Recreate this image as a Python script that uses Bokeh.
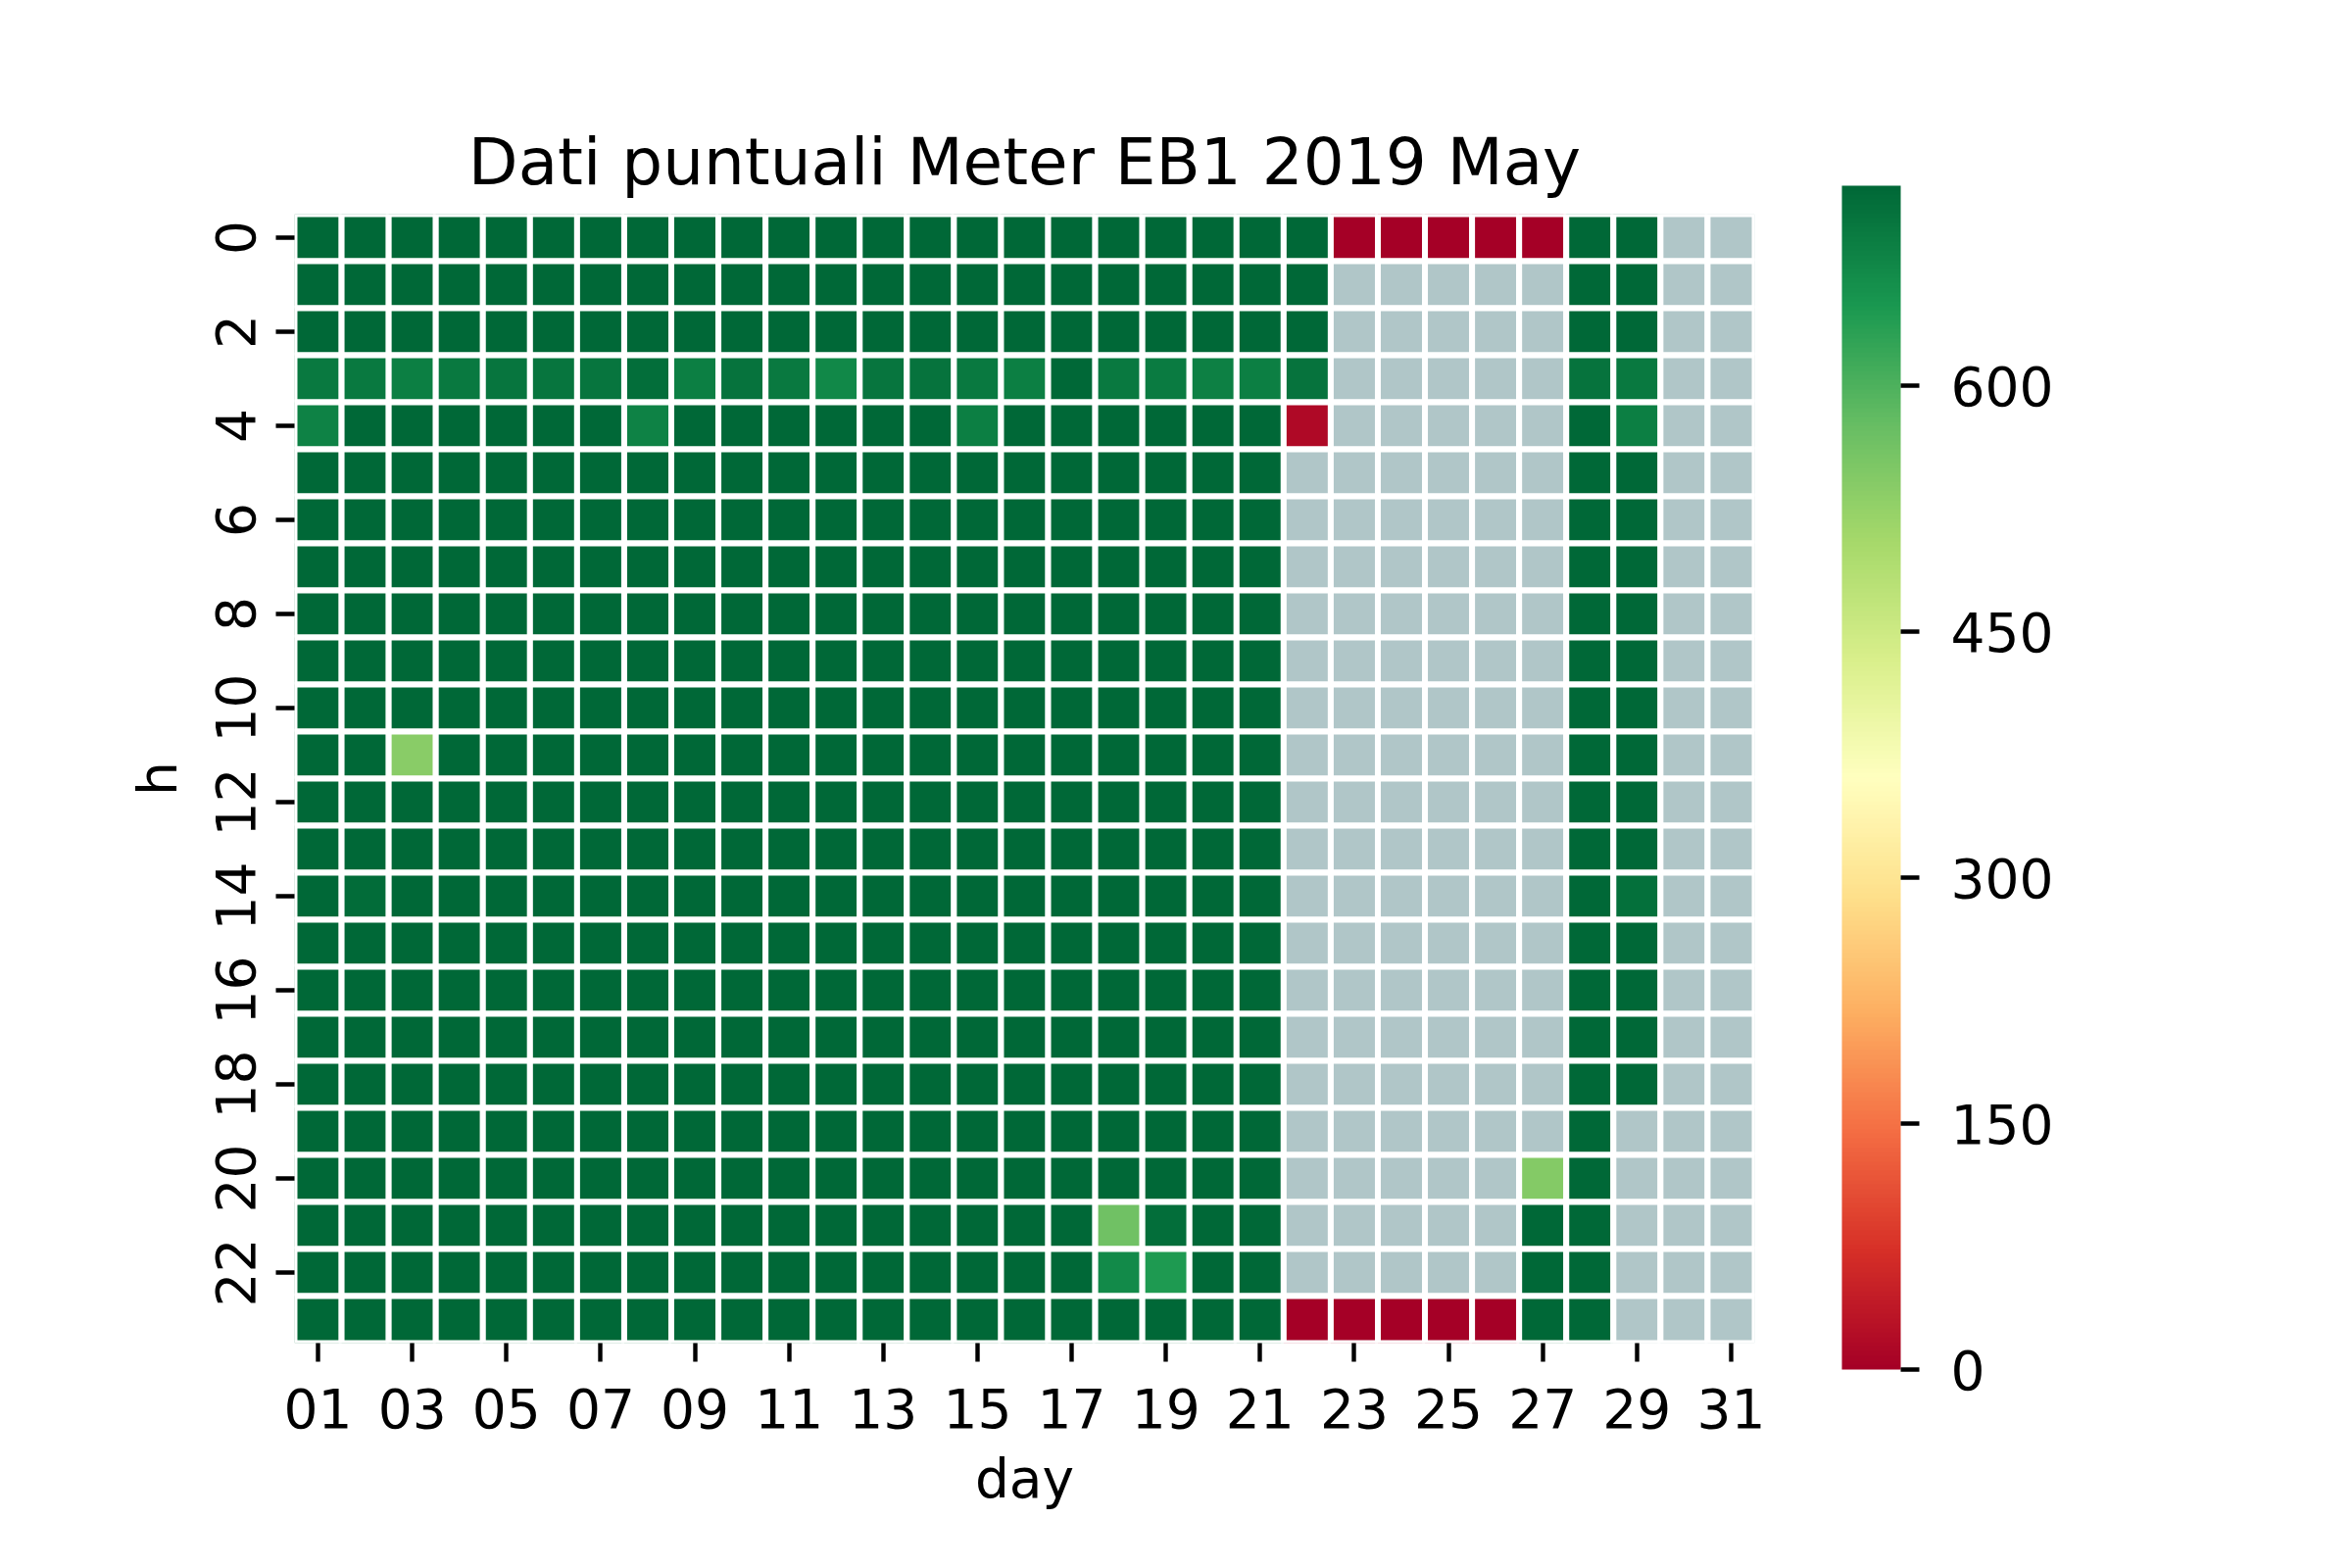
import numpy as np

from bokeh.embed import file_html
from bokeh.models import ColorBar, ColumnDataSource, FixedTicker, LinearColorMapper, Range1d
from bokeh.plotting import figure
from bokeh.resources import INLINE

title = "Dati puntuali Meter EB1 2019 May"
day_labels = [f"{d:02d}" for d in range(1, 32)]
hours = list(range(24))
cbar_ticks = [0, 150, 300, 450, 600]
vmax = 722

N = None  # no reading
D = 720   # full hour (darkest green)

#        01 .. 10                                          11 .. 20                                          21 .. 31
kwh = [
    [D, D, D, D, D, D, D, D, D, D,                     D, D, D, D, D, D, D, D, D, D,                     D, D, 0, 0, 0, 0, 0, D, D, N, N],      # 0
    [D, D, D, D, D, D, D, D, D, D,                     D, D, D, D, D, D, D, D, D, D,                     D, D, N, N, N, N, N, D, D, N, N],      # 1
    [D, D, D, D, D, D, D, D, D, D,                     D, D, D, D, D, D, D, D, D, D,                     D, D, N, N, N, N, N, D, D, N, N],      # 2
    [695, 695, 686, 695, 702, 700, 702, 711, 686, 705, 695, 674, 702, 705, 695, 686, 720, 695, 693, 683, 686, 705, N, N, N, N, N, 704, 694, N, N],  # 3
    [680, D, D, D, D, D, D, 680, D, D,                 D, D, D, D, 686, D, D, D, D, D,                   D, 15, N, N, N, N, N, D, 688, N, N],   # 4
    [D, D, D, D, D, D, D, D, D, D,                     D, D, D, D, D, D, D, D, D, D,                     D, N, N, N, N, N, N, D, D, N, N],      # 5
    [D, D, D, D, D, D, D, D, D, D,                     D, D, D, D, D, D, D, D, D, D,                     D, N, N, N, N, N, N, D, D, N, N],      # 6
    [D, D, D, D, D, D, D, D, D, D,                     D, D, D, D, D, D, D, D, D, D,                     D, N, N, N, N, N, N, D, D, N, N],      # 7
    [D, D, D, D, D, D, D, D, D, D,                     D, D, D, D, D, D, D, D, D, D,                     D, N, N, N, N, N, N, D, D, N, N],      # 8
    [D, D, D, D, D, D, D, D, D, D,                     D, D, D, D, D, D, D, D, D, D,                     D, N, N, N, N, N, N, D, D, N, N],      # 9
    [D, D, D, D, D, D, D, D, D, D,                     D, D, D, D, D, D, D, D, D, D,                     D, N, N, N, N, N, N, D, D, N, N],      # 10
    [D, D, 538, D, D, D, D, D, D, D,                   D, D, D, D, D, D, D, D, D, D,                     D, N, N, N, N, N, N, D, D, N, N],      # 11
    [D, D, D, D, D, D, D, D, D, D,                     D, D, D, D, D, D, D, D, D, D,                     D, N, N, N, N, N, N, D, D, N, N],      # 12
    [D, D, D, D, D, D, D, D, D, D,                     D, D, D, D, D, D, D, D, D, D,                     D, N, N, N, N, N, N, D, D, N, N],      # 13
    [D, 715, D, D, D, D, D, D, D, D,                   D, D, D, D, D, D, D, D, D, D,                     D, N, N, N, N, N, N, D, 710, N, N],    # 14
    [D, D, D, D, D, D, D, D, D, D,                     D, D, D, D, D, D, D, D, D, D,                     D, N, N, N, N, N, N, D, D, N, N],      # 15
    [D, D, D, D, D, D, D, D, D, D,                     D, D, D, D, D, D, D, D, D, D,                     D, N, N, N, N, N, N, D, D, N, N],      # 16
    [D, D, D, D, D, D, D, D, D, D,                     D, D, D, D, D, D, D, D, D, D,                     D, N, N, N, N, N, N, D, D, N, N],      # 17
    [D, D, D, D, D, D, D, D, D, D,                     D, D, D, D, D, D, D, D, D, D,                     D, N, N, N, N, N, N, D, D, N, N],      # 18
    [D, D, D, D, D, D, D, D, D, D,                     D, D, D, D, D, D, D, D, D, D,                     D, N, N, N, N, N, N, D, N, N, N],      # 19
    [D, D, D, D, D, D, D, D, D, D,                     D, D, D, D, D, D, D, D, D, D,                     D, N, N, N, N, N, 544, D, N, N, N],    # 20
    [D, D, D, D, D, D, D, D, D, D,                     D, D, D, D, D, D, D, 565, 713, D,                 D, N, N, N, N, N, D, D, N, N, N],      # 21
    [D, D, D, D, D, D, D, D, D, D,                     D, D, D, D, D, D, D, 669, 644, D,                 D, N, N, N, N, N, D, D, N, N, N],      # 22
    [D, D, D, D, D, D, D, D, D, D,                     D, D, D, D, D, D, D, D, D, D,                     D, 0, 0, 0, 0, 0, D, D, N, N, N],      # 23
]

# RdYlGn anchors, red (low) -> green (high), spread to 256 steps
rdylgn = ["#a50026", "#d73027", "#f46d43", "#fdae61", "#fee08b", "#ffffbf",
          "#d9ef8b", "#a6d96a", "#66bd63", "#1a9850", "#006837"]
anchors = np.array([[int(c[i:i + 2], 16) for i in (1, 3, 5)] for c in rdylgn], dtype=float)
pos = np.linspace(0, 1, len(rdylgn))
t = np.linspace(0, 1, 256)
rgb = np.stack([np.interp(t, pos, anchors[:, k]) for k in range(3)], axis=1)
palette = ["#%02x%02x%02x" % tuple(int(round(v)) for v in c) for c in rgb]

mapper = LinearColorMapper(palette=palette, low=0, high=vmax, nan_color="#b0c6c8")

xs, ys, vals = [], [], []
for h in hours:
    for j in range(len(day_labels)):
        v = kwh[h][j]
        xs.append(j + 1)
        ys.append(h)
        vals.append(np.nan if v is None else float(v))
source = ColumnDataSource(dict(day=xs, hour=ys, kwh=vals))

FONT = "DejaVu Sans"

p = figure(frame_width=1490, frame_height=1152,
           min_border_left=300, min_border_top=218, min_border_right=330, min_border_bottom=220,
           x_range=Range1d(0.5, 31.5), y_range=Range1d(23.5, -0.5),
           title=title, output_backend="svg", toolbar_location=None)

p.rect(x="day", y="hour", width=1, height=1, source=source,
       fill_color={"field": "kwh", "transform": mapper},
       line_color="white", line_width=6)

p.title.align = "center"
p.title.text_font = FONT
p.title.text_font_size = "66px"
p.title.text_font_style = "normal"
p.title.text_color = "black"
p.title.standoff = 29

p.outline_line_color = None
p.grid.grid_line_color = None

p.xaxis.ticker = FixedTicker(ticks=list(range(1, 32, 2)))
p.xaxis.major_label_overrides = {i + 1: lab for i, lab in enumerate(day_labels)}
p.yaxis.ticker = FixedTicker(ticks=list(range(0, 24, 2)))
p.yaxis.major_label_orientation = "vertical"
p.xaxis.axis_label = "day"
p.yaxis.axis_label = "h"

for ax in (p.xaxis, p.yaxis):
    ax.axis_line_color = None
    ax.minor_tick_line_color = None
    ax.major_tick_in = 0
    ax.major_tick_out = 19
    ax.major_tick_line_width = 4.4
    ax.major_tick_line_color = "black"
    ax.major_label_text_font = FONT
    ax.major_label_text_font_size = "55px"
    ax.major_label_text_color = "black"
    ax.axis_label_text_font = FONT
    ax.axis_label_text_font_size = "55px"
    ax.axis_label_text_font_style = "normal"
    ax.axis_label_text_color = "black"
p.xaxis.major_label_standoff = 27
p.yaxis.major_label_standoff = 22
p.xaxis.axis_label_standoff = 17
p.yaxis.axis_label_standoff = 24

# colour bar sits beside the heatmap, a bit taller than it
color_bar = ColorBar(color_mapper=mapper, ticker=FixedTicker(ticks=cbar_ticks),
                     width=60, height=1208, location=(1579, -27), padding=0,
                     bar_line_color=None, border_line_color=None, background_fill_color=None,
                     major_tick_in=0, major_tick_out=19, major_tick_line_width=4.4,
                     major_tick_line_color="black", minor_tick_line_color=None,
                     label_standoff=32, major_label_text_font=FONT,
                     major_label_text_font_size="55px", major_label_text_color="black")
p.add_layout(color_bar)

open("out.html", "w").write(file_html(p, INLINE))
